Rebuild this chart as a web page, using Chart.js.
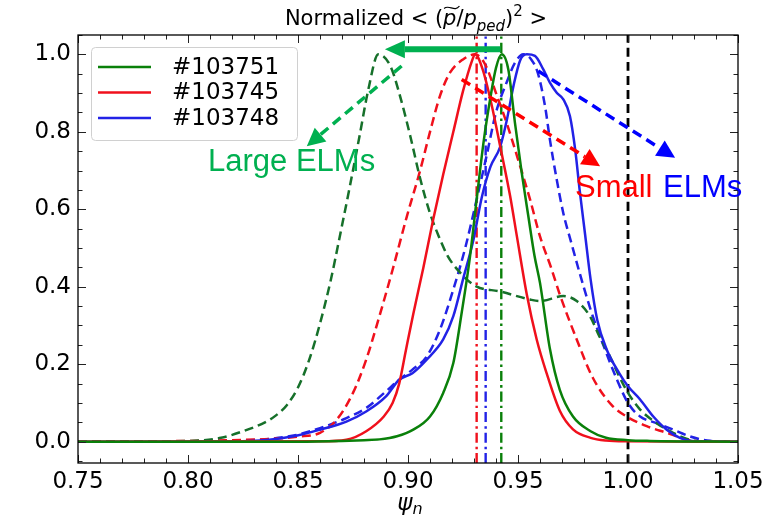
<!DOCTYPE html>
<html><head><meta charset="utf-8">
<script src="https://cdn.jsdelivr.net/npm/chart.js@4.4.1/dist/chart.umd.min.js"></script>
<style>html,body{margin:0;padding:0;background:#fff}#wrap{width:773px;height:519px}</style>
</head><body><div id="wrap"><canvas id="c" width="773" height="519"></canvas></div>
<script>
// ---------------- data ----------------
const seriesLabels = ['#103751', '#103745', '#103748'];

const psiGreenSolid = [0.75, 0.85, 0.87, 0.88, 0.887, 0.895, 0.9024, 0.91, 0.916, 0.9206, 0.9244, 0.928, 0.9315, 0.9345, 0.9375, 0.940, 0.9426, 0.9456, 0.9486, 0.9517, 0.9547, 0.9575, 0.960, 0.9645, 0.969, 0.975, 0.983, 0.990, 1.000, 1.010, 1.05];
const valGreenSolid = [0, 0, 0.002, 0.004, 0.006, 0.014, 0.031, 0.065, 0.126, 0.203, 0.333, 0.47, 0.64, 0.78, 0.89, 0.965, 1.0, 0.961, 0.824, 0.694, 0.582, 0.48, 0.41, 0.24, 0.134, 0.065, 0.027, 0.01, 0.004, 0.002, 0];

const psiRedSolid = [0.75, 0.86, 0.872, 0.881, 0.889, 0.893, 0.896, 0.899, 0.9024, 0.907, 0.9115, 0.916, 0.9206, 0.925, 0.929, 0.9305, 0.934, 0.938, 0.942, 0.9464, 0.9495, 0.954, 0.9585, 0.963, 0.969, 0.975, 0.983, 0.99, 1.0, 1.05];
const valRedSolid = [0, 0.001, 0.005, 0.027, 0.065, 0.1, 0.15, 0.235, 0.33, 0.45, 0.575, 0.69, 0.8, 0.905, 0.982, 1.0, 0.96, 0.87, 0.76, 0.635, 0.53, 0.38, 0.264, 0.177, 0.08, 0.032, 0.01, 0.003, 0.001, 0];

const psiBlueSolid = [0.75, 0.82, 0.8327, 0.848, 0.86, 0.872, 0.881, 0.890, 0.896, 0.902, 0.9085, 0.916, 0.9206, 0.925, 0.9297, 0.9335, 0.9375, 0.9418, 0.9449, 0.948, 0.951, 0.954, 0.9577, 0.9615, 0.9645, 0.9676, 0.9706, 0.9736, 0.976, 0.978, 0.9805, 0.983, 0.986, 0.9903, 0.996, 1.0, 1.0055, 1.0115, 1.0176, 1.0236, 1.03, 1.05];
const valBlueSolid = [0, 0.001, 0.003, 0.014, 0.031, 0.052, 0.078, 0.117, 0.16, 0.177, 0.212, 0.264, 0.324, 0.419, 0.52, 0.63, 0.71, 0.76, 0.83, 0.92, 0.985, 1.0, 0.996, 0.961, 0.927, 0.901, 0.884, 0.841, 0.754, 0.651, 0.535, 0.419, 0.315, 0.238, 0.177, 0.143, 0.109, 0.065, 0.031, 0.01, 0.001, 0];

const psiGreenDashed = [0.75, 0.80, 0.815, 0.825, 0.835, 0.840, 0.845, 0.850, 0.855, 0.860, 0.865, 0.869, 0.8736, 0.878, 0.882, 0.8865, 0.892, 0.896, 0.901, 0.9055, 0.910, 0.914, 0.918, 0.9236, 0.931, 0.9418, 0.9555, 0.960, 0.9706, 0.9767, 0.9827, 0.987, 0.9918, 0.996, 1.0, 1.0055, 1.013, 1.0205, 1.028, 1.036, 1.05];
const valGreenDashed = [0, 0.002, 0.01, 0.027, 0.05, 0.068, 0.095, 0.14, 0.21, 0.305, 0.42, 0.53, 0.66, 0.79, 0.91, 1.0, 0.97, 0.90, 0.79, 0.68, 0.59, 0.53, 0.48, 0.437, 0.401, 0.388, 0.367, 0.363, 0.376, 0.363, 0.324, 0.272, 0.22, 0.169, 0.126, 0.083, 0.048, 0.023, 0.005, 0, 0];

const psiRedDashed = [0.75, 0.80, 0.84, 0.85, 0.86, 0.8676, 0.875, 0.881, 0.887, 0.893, 0.8994, 0.9055, 0.910, 0.9145, 0.919, 0.925, 0.9305, 0.935, 0.940, 0.945, 0.9505, 0.9555, 0.960, 0.965, 0.969, 0.9767, 0.984, 0.9925, 1.0, 1.0085, 1.0176, 1.0267, 1.033, 1.05];
const valRedDashed = [0, 0.002, 0.008, 0.013, 0.023, 0.057, 0.126, 0.212, 0.324, 0.444, 0.58, 0.70, 0.80, 0.892, 0.952, 0.987, 1.0, 0.975, 0.90, 0.82, 0.72, 0.625, 0.53, 0.45, 0.38, 0.264, 0.165, 0.095, 0.063, 0.04, 0.023, 0.006, 0.001, 0];

const psiBlueDashed = [0.75, 0.82, 0.848, 0.86, 0.872, 0.881, 0.89, 0.896, 0.902, 0.9085, 0.9145, 0.9206, 0.926, 0.931, 0.9358, 0.940, 0.945, 0.9486, 0.9524, 0.956, 0.959, 0.9623, 0.9645, 0.9676, 0.9706, 0.9744, 0.978, 0.983, 0.989, 0.995, 1.0, 1.0055, 1.013, 1.0206, 1.028, 1.036, 1.048, 1.05];
const valBlueDashed = [0, 0.002, 0.016, 0.035, 0.061, 0.087, 0.13, 0.16, 0.186, 0.22, 0.289, 0.393, 0.50, 0.62, 0.74, 0.85, 0.93, 0.978, 1.0, 0.987, 0.952, 0.866, 0.78, 0.677, 0.59, 0.51, 0.436, 0.341, 0.246, 0.16, 0.1, 0.065, 0.048, 0.031, 0.014, 0.003, 0, 0];

// peak positions (dash-dot) for #103745, #103748, #103751 and separatrix
const peakPsi = [0.9312, 0.9353, 0.9424];
const separatrixPsi = 1.0;

// axes ticks
const xTickValues = [0.75, 0.80, 0.85, 0.90, 0.95, 1.00, 1.05];
const yTickValues = [0.0, 0.2, 0.4, 0.6, 0.8, 1.0];
const xRange = [0.75, 1.05];
const yRange = [-0.055, 1.05];

// ---------------- styles ----------------
const GREEN = '#0a800a', GREEN_D = '#16702a', RED = '#f0101c', BLUE = '#2222e6';
const ANN_GREEN = '#00b050', ANN_RED = '#ff0000', ANN_BLUE = '#0000ff';
const DASH = [9, 5], DASHDOT = [10, 4, 2.5, 4];
const TICK_FONT = 'DejaVu Sans';

const pts = (xs, ys) => xs.map((x, i) => ({x: x, y: ys[i]}));
const vline = (x) => [{x: x, y: yRange[0]}, {x: x, y: yRange[1]}];

function lineDs(label, data, color, dash, width) {
  return {label: label, data: data, borderColor: color, backgroundColor: color, borderWidth: width || 2.5,
    borderDash: dash || [], pointRadius: 0, pointHoverRadius: 0, fill: false,
    cubicInterpolationMode: 'monotone', borderCapStyle: 'butt'};
}

const datasets = [
  lineDs(seriesLabels[0], pts(psiGreenSolid, valGreenSolid), GREEN),
  lineDs(seriesLabels[1], pts(psiRedSolid, valRedSolid), RED),
  lineDs(seriesLabels[2], pts(psiBlueSolid, valBlueSolid), BLUE),
  lineDs(seriesLabels[0] + ' dashed', pts(psiGreenDashed, valGreenDashed), GREEN_D, DASH),
  lineDs(seriesLabels[1] + ' dashed', pts(psiRedDashed, valRedDashed), RED, DASH),
  lineDs(seriesLabels[2] + ' dashed', pts(psiBlueDashed, valBlueDashed), BLUE, DASH),
  lineDs('peak #103745', vline(peakPsi[0]), RED, DASHDOT, 2.4),
  lineDs('peak #103748', vline(peakPsi[1]), BLUE, DASHDOT, 2.4),
  lineDs('peak #103751', vline(peakPsi[2]), GREEN, DASHDOT, 2.4),
  lineDs('separatrix', vline(separatrixPsi), '#000000', [9, 5], 2.8)
];

// annotations in data coordinates
const arrows = [
  {from: [0.9420, 1.013], to: [0.8895, 1.013], color: ANN_GREEN, width: 6, dash: [], headLen: 20, headW: 9},
  {from: [0.8971, 0.970], to: [0.854, 0.763], color: ANN_GREEN, width: 3.5, dash: [10, 6], headLen: 18, headW: 9},
  {from: [0.9244, 0.935], to: [0.9873, 0.711], color: ANN_RED, width: 3.5, dash: [10, 6], headLen: 18, headW: 9},
  {from: [0.9592, 0.957], to: [1.0214, 0.733], color: ANN_BLUE, width: 3.5, dash: [10, 6], headLen: 18, headW: 9}
];
const notes = [
  {text: 'Large ELMs', at: [0.8091, 0.699], color: ANN_GREEN},
  {text: 'Small', at: [0.9759, 0.633], color: ANN_RED},
  {text: 'ELMs', at: [1.0159, 0.633], color: ANN_BLUE}
];

function drawArrow(ctx, x1, y1, x2, y2, a) {
  const ang = Math.atan2(y2 - y1, x2 - x1);
  const bx = x2 - a.headLen * Math.cos(ang), by = y2 - a.headLen * Math.sin(ang);
  ctx.save();
  ctx.strokeStyle = a.color; ctx.fillStyle = a.color; ctx.lineWidth = a.width;
  ctx.setLineDash(a.dash); ctx.lineCap = 'butt';
  ctx.beginPath(); ctx.moveTo(x1, y1); ctx.lineTo(bx, by); ctx.stroke();
  ctx.setLineDash([]);
  const px = -Math.sin(ang), py = Math.cos(ang);
  ctx.beginPath();
  ctx.moveTo(x2, y2);
  ctx.lineTo(bx + px * a.headW, by + py * a.headW);
  ctx.lineTo(bx - px * a.headW, by - py * a.headW);
  ctx.closePath(); ctx.fill();
  ctx.restore();
}

const decor = {
  id: 'decor',
  afterDraw(chart) {
    const ctx = chart.ctx, xs = chart.scales.x, ys = chart.scales.y, ca = chart.chartArea;
    ctx.save();
    // inward ticks on all sides
    ctx.strokeStyle = '#222'; ctx.lineWidth = 1;
    const major = 8, minor = 4.5;
    for (let i = 0; i <= 30; i++) {
      const v = xRange[0] + i * 0.01;
      const p = Math.round(xs.getPixelForValue(v)) + 0.5;
      const L = (i % 5 === 0) ? major : minor;
      ctx.beginPath(); ctx.moveTo(p, ca.bottom); ctx.lineTo(p, ca.bottom - L);
      ctx.moveTo(p, ca.top); ctx.lineTo(p, ca.top + L); ctx.stroke();
    }
    for (let i = -1; i <= 21; i++) {
      const v = i * 0.05;
      if (v < yRange[0] || v > yRange[1]) continue;
      const p = Math.round(ys.getPixelForValue(v)) + 0.5;
      const L = (i % 4 === 0) ? major : minor;
      ctx.beginPath(); ctx.moveTo(ca.left, p); ctx.lineTo(ca.left + L, p);
      ctx.moveTo(ca.right, p); ctx.lineTo(ca.right - L, p); ctx.stroke();
    }
    // frame
    ctx.strokeStyle = '#000'; ctx.lineWidth = 1.3;
    ctx.strokeRect(ca.left, ca.top, ca.right - ca.left, ca.bottom - ca.top);

    // legend
    const lx = 91, ly = 47, lw = 206, lh = 93;
    ctx.beginPath();
    ctx.roundRect(lx + 0.5, ly + 0.5, lw, lh, 4);
    ctx.fillStyle = 'rgba(255,255,255,0.85)'; ctx.fill();
    ctx.strokeStyle = '#d0d0d0'; ctx.lineWidth = 1; ctx.stroke();
    const legColors = [GREEN, RED, BLUE];
    ctx.font = '23px "' + TICK_FONT + '"'; ctx.textBaseline = 'middle'; ctx.textAlign = 'left';
    for (let i = 0; i < 3; i++) {
      const yy = 67 + i * 25.5;
      ctx.strokeStyle = legColors[i]; ctx.lineWidth = 2.6;
      ctx.beginPath(); ctx.moveTo(98, yy); ctx.lineTo(151, yy); ctx.stroke();
      ctx.fillStyle = '#000'; ctx.fillText(seriesLabels[i], 172, yy + 1);
    }

    // arrows
    arrows.forEach(a => drawArrow(ctx, xs.getPixelForValue(a.from[0]), ys.getPixelForValue(a.from[1]),
      xs.getPixelForValue(a.to[0]), ys.getPixelForValue(a.to[1]), a));
    // notes
    ctx.font = '31px "Liberation Sans"'; ctx.textBaseline = 'alphabetic'; ctx.textAlign = 'left';
    notes.forEach(n => { ctx.fillStyle = n.color; ctx.fillText(n.text, xs.getPixelForValue(n.at[0]), ys.getPixelForValue(n.at[1])); });

    // title: Normalized < (p~/p_ped)^2 >
    const F = '"' + TICK_FONT + '"';
    const parts = [
      {t: 'Normalized', f: '21px ' + F},
      {t: ' < (', f: '21px ' + F},
      {t: 'p', f: 'italic 21px ' + F, tilde: true},
      {t: '/', f: '21px ' + F},
      {t: 'p', f: 'italic 21px ' + F},
      {t: 'ped', f: 'italic 15px ' + F, dy: 6},
      {t: ')', f: '21px ' + F},
      {t: '2', f: '15px ' + F, dy: -9},
      {t: ' >', f: '21px ' + F}
    ];
    let total = 0;
    parts.forEach(p => { ctx.font = p.f; p.w = ctx.measureText(p.t).width; total += p.w; });
    let tx = (ca.left + ca.right) / 2 + 8 - total / 2;
    const tb = 25;
    ctx.fillStyle = '#000'; ctx.textBaseline = 'alphabetic';
    parts.forEach(p => {
      ctx.font = p.f; ctx.fillText(p.t, tx, tb + (p.dy || 0));
      if (p.tilde) {
        const x0 = tx + 1, x1 = tx + p.w + 3, yT = tb - 18;
        ctx.strokeStyle = '#000'; ctx.lineWidth = 1.2;
        ctx.beginPath(); ctx.moveTo(x0, yT + 1.5);
        ctx.bezierCurveTo(x0 + (x1 - x0) * 0.3, yT - 3, x0 + (x1 - x0) * 0.7, yT + 5.5, x1, yT - 1);
        ctx.stroke();
      }
      tx += p.w;
    });
    // x-axis title psi_n
    ctx.font = 'italic 23px ' + F;
    const wPsi = ctx.measureText('ψ').width;
    ctx.font = 'italic 16px ' + F;
    const wN = ctx.measureText('n').width;
    let ax = (ca.left + ca.right) / 2 + 2 - (wPsi + wN) / 2;
    ctx.font = 'italic 23px ' + F; ctx.fillText('ψ', ax, 510);
    ctx.font = 'italic 16px ' + F; ctx.fillText('n', ax + wPsi, 514);
    ctx.restore();
  }
};

new Chart(document.getElementById('c'), {
  type: 'line',
  data: {datasets: datasets},
  options: {
    responsive: false, animation: false, devicePixelRatio: 1,
    layout: {padding: {top: 35, right: 35, left: 0, bottom: 0}},
    plugins: {legend: {display: false}, tooltip: {enabled: false}, title: {display: false}},
    scales: {
      x: {type: 'linear', min: xRange[0], max: xRange[1],
        grid: {display: false, drawTicks: false}, border: {display: false},
        afterBuildTicks: s => { s.ticks = xTickValues.map(v => ({value: v})); },
        afterFit: s => { s.height = 56; },
        ticks: {autoSkip: false, maxRotation: 0, padding: 5, color: '#000',
          font: {family: TICK_FONT, size: 23}, callback: v => Number(v).toFixed(2)}},
      y: {type: 'linear', min: yRange[0], max: yRange[1],
        grid: {display: false, drawTicks: false}, border: {display: false},
        afterBuildTicks: s => { s.ticks = yTickValues.map(v => ({value: v})); },
        afterFit: s => { s.width = 78; },
        ticks: {autoSkip: false, padding: 7, color: '#000',
          font: {family: TICK_FONT, size: 23}, callback: v => Number(v).toFixed(1)}}
    }
  },
  plugins: [decor]
});
</script></body></html>
